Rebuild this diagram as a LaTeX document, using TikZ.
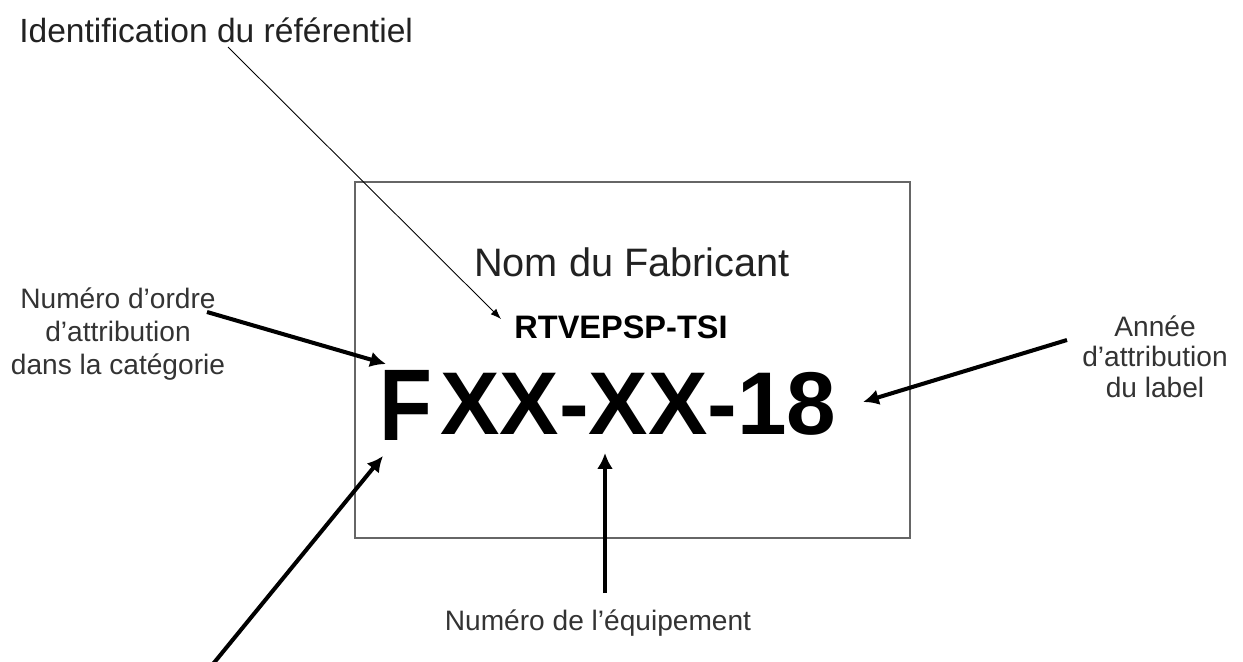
\documentclass[tikz,border=0pt]{standalone}
\usepackage{fontspec}
\usepackage{graphicx}
\setmainfont{Liberation Sans}
\usetikzlibrary{arrows.meta}
\definecolor{labelgray}{HTML}{333333}
\definecolor{plategray}{HTML}{666666}
\definecolor{titleblack}{HTML}{222222}

\begin{document}
\begin{tikzpicture}[x=0.02cm,y=-0.02cm,
    txt/.style={inner sep=0pt,text=titleblack},
    lbl/.style={inner sep=0pt,text=labelgray,align=center},
    thinarrow/.style={-{Latex[length=6pt,width=4.5pt]},line width=0.5pt},
    thickarrow/.style={-{Latex[length=9pt,width=9pt]},line width=2.3pt}]
  \useasboundingbox (0,0) rectangle (1243,662);
  % the plate
  \draw[plategray,line width=1pt] (355,182) rectangle (910,538);
  \node[txt,anchor=base west] (ident) at (19,43) {\fontsize{19.1}{23}\selectfont Identification du référentiel};
  \node[txt,anchor=base] (fabricant) at (632,276) {\fontsize{22.6}{27}\selectfont Nom du Fabricant};
  \node[txt,anchor=base,text=black] (ref) at (621,338) {\fontsize{18.5}{22}\selectfont\bfseries RTVEPSP-TSI};
  \node[txt,anchor=base,text=black] (code) at (638.5,434) {\fontsize{50.7}{60}\selectfont\bfseries XX-XX-18};
  \node[txt,anchor=base west,text=black] (cat) at (379,440) {\fontsize{58}{60}\selectfont\bfseries\scalebox{0.85}[1]{F}};
  % labels
  \node[lbl,anchor=north,font=\fontsize{16}{19}\selectfont] (ordre) at (118,287) {Numéro d’ordre\\d’attribution\\dans la catégorie};
  \node[lbl,anchor=north,font=\fontsize{16}{17.6}\selectfont] (annee) at (1155,315) {Année\\d’attribution\\du label};
  \node[lbl,anchor=base,font=\fontsize{16}{19}\selectfont] (equip) at (598,630) {Numéro de l’équipement};
  % arrows
  \coordinate (identfoot) at (228,47);
  \coordinate (reftip) at (501,319);
  \coordinate (ordretail) at (207,312);
  \coordinate (ordretip) at (386,364);
  \coordinate (anneetail) at (1067,340);
  \coordinate (anneetip) at (863,402);
  \coordinate (equiptail) at (605,593);
  \coordinate (equiptip) at (605,453);
  \coordinate (cattail) at (213,664);
  \coordinate (cattip) at (383,456);
  \draw[thinarrow] (identfoot) -- (reftip);
  \draw[thickarrow] (ordretail) -- (ordretip);
  \draw[thickarrow] (anneetail) -- (anneetip);
  \draw[thickarrow] (equiptail) -- (equiptip);
  \draw[thickarrow] (cattail) -- (cattip);
\end{tikzpicture}
\end{document}
